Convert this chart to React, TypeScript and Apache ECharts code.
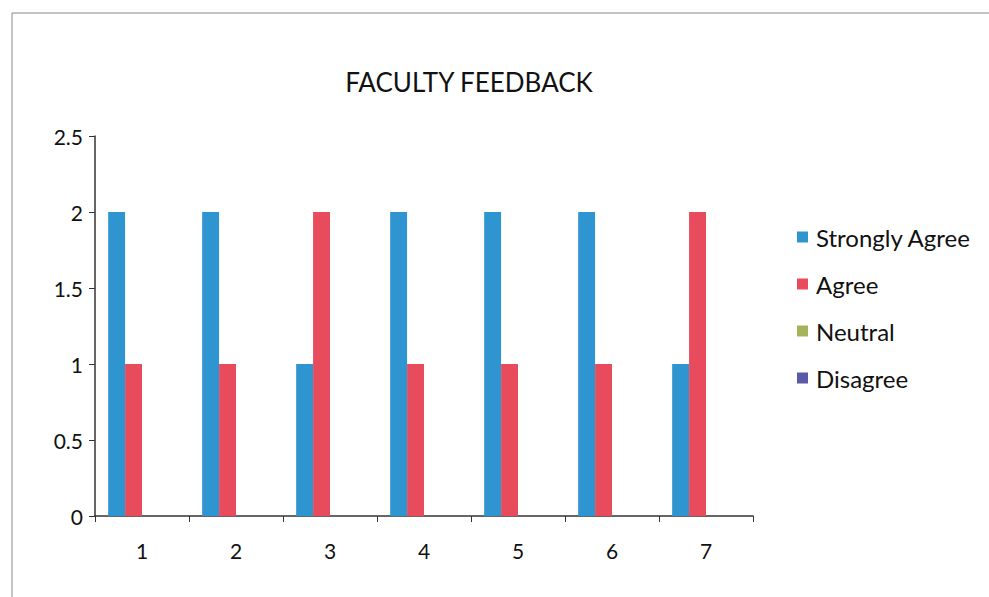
import React, { useEffect, useRef } from "react";
import * as echarts from "echarts";

const categories = ["1", "2", "3", "4", "5", "6", "7"];
const stronglyAgree = [2, 2, 1, 2, 2, 2, 1];
const agree = [1, 1, 2, 1, 1, 1, 2];
const neutral = [0, 0, 0, 0, 0, 0, 0];
const disagree = [0, 0, 0, 0, 0, 0, 0];
const seriesNames = ["Strongly Agree", "Agree", "Neutral", "Disagree"];
const colors = ["#2f95d0", "#e84b5c", "#a4b45a", "#5a5aa6"];

export default function App() {
  const ref = useRef<HTMLDivElement>(null);
  useEffect(() => {
    if (!ref.current) return;
    const chart = echarts.init(ref.current, null, { renderer: "svg" });
    const font = "Lato, 'Open Sans', sans-serif";
    const values = [stronglyAgree, agree, neutral, disagree];
    chart.setOption({
      animation: false,
      backgroundColor: "#ffffff",
      title: {
        text: "FACULTY FEEDBACK",
        left: 464,
        top: 64,
        textAlign: "center",
        textStyle: { fontFamily: font, fontSize: 26, fontWeight: "normal", color: "#111" },
      },
      legend: {
        orient: "vertical",
        left: 792,
        top: 220,
        itemWidth: 11,
        itemHeight: 11,
        itemGap: 23,
        icon: "rect",
        textStyle: { fontFamily: font, fontSize: 24, color: "#111", padding: [0, 0, 0, 3] },
        data: seriesNames,
      },
      grid: { left: 95, right: 236, top: 136, bottom: 81, containLabel: false },
      xAxis: {
        type: "category",
        data: categories,
        axisLine: { lineStyle: { color: "#333", width: 1.5 } },
        axisTick: { show: true, length: 6, lineStyle: { color: "#333" } },
        axisLabel: { fontFamily: font, fontSize: 21, color: "#111", margin: 24 },
      },
      yAxis: {
        type: "value",
        min: 0,
        max: 2.5,
        interval: 0.5,
        splitLine: { show: false },
        axisLine: { show: true, lineStyle: { color: "#333", width: 1.5 } },
        axisTick: { show: true, length: 6, lineStyle: { color: "#333" } },
        axisLabel: { fontFamily: font, fontSize: 21, color: "#111", margin: 12 },
      },
      graphic: [
        { type: "line", shape: { x1: 12, y1: 13, x2: 989, y2: 13 }, style: { stroke: "#888", lineWidth: 1 } },
        { type: "line", shape: { x1: 12, y1: 13, x2: 12, y2: 597 }, style: { stroke: "#888", lineWidth: 1 } },
      ],
      series: seriesNames.map((name, i) => ({
        name,
        type: "bar",
        data: values[i],
        barGap: "0%",
        barCategoryGap: "28%",
        itemStyle: { color: colors[i] },
      })),
    });
    return () => chart.dispose();
  }, []);
  return <div ref={ref} style={{ width: 989, height: 597, position: "absolute", left: 0, top: 0 }} />;
}
